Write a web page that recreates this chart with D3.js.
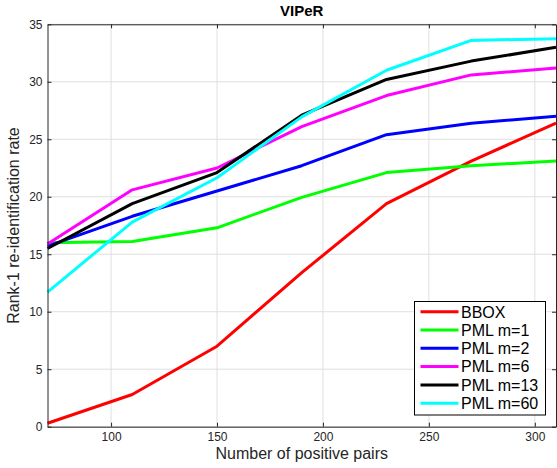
<!DOCTYPE html>
<html><head><meta charset="utf-8">
<script src="https://cdn.jsdelivr.net/npm/d3@7"></script>
<style>body{margin:0;background:#fff}svg{display:block;font-family:"Liberation Sans",Arial,sans-serif}</style>
</head><body><svg id="c" width="557" height="468"></svg>
<script>
const pairs = [70, 110, 150, 190, 230, 270, 310];
const seriesNames = ["BBOX", "PML m=1", "PML m=2", "PML m=6", "PML m=13", "PML m=60"];
const seriesColors = ["#ff0000", "#00ff00", "#0000ff", "#ff00ff", "#000000", "#00ffff"];
const bbox  = [0.3, 2.8, 7.0, 13.4, 19.4, 23.1, 26.4];
const pml1  = [16.0, 16.1, 17.3, 19.95, 22.1, 22.7, 23.1];
const pml2  = [15.7, 18.3, 20.5, 22.7, 25.4, 26.4, 27.0];
const pml6  = [15.9, 20.6, 22.5, 26.1, 28.8, 30.6, 31.2];
const pml13 = [15.5, 19.4, 22.1, 27.1, 30.2, 31.8, 33.0];
const pml60 = [11.7, 17.8, 21.65, 26.95, 31.0, 33.6, 33.75];
const xTicks = [100, 150, 200, 250, 300];
const yTicks = [0, 5, 10, 15, 20, 25, 30, 35];
const allSeries = [bbox, pml1, pml2, pml6, pml13, pml60];

const svg = d3.select("#c");
const L = 47.5, R = 556, T = 24.3, B = 426.7;
const x = d3.scaleLinear().domain([70, 310]).range([L, R]);
const y = d3.scaleLinear().domain([0, 35]).range([B, T]);
const axisCol = "#262626";

// grid
const g = svg.append("g");
g.selectAll("line.gx").data(xTicks).join("line")
  .attr("x1", d => x(d)).attr("x2", d => x(d)).attr("y1", T).attr("y2", B)
  .attr("stroke", "#dfdfdf").attr("stroke-width", 1);
g.selectAll("line.gy").data(yTicks).join("line")
  .attr("y1", d => y(d)).attr("y2", d => y(d)).attr("x1", L).attr("x2", R)
  .attr("stroke", "#dfdfdf").attr("stroke-width", 1);

// lines
const line = d3.line().x((d, i) => x(pairs[i])).y(d => y(d));
svg.append("g").selectAll("path").data(allSeries).join("path")
  .attr("d", d => line(d)).attr("fill", "none")
  .attr("stroke", (d, i) => seriesColors[i]).attr("stroke-width", 3)
  .attr("stroke-linejoin", "round");

// axes
const fmt = d3.format("d");
const axB = svg.append("g").attr("transform", `translate(0,${B})`)
  .call(d3.axisBottom(x).tickValues(xTicks).tickFormat(fmt).tickSizeInner(-4).tickSizeOuter(0).tickPadding(6));
const axT = svg.append("g").attr("transform", `translate(0,${T})`)
  .call(d3.axisTop(x).tickValues(xTicks).tickFormat("").tickSizeInner(-4).tickSizeOuter(0));
const axL = svg.append("g").attr("transform", `translate(${L},0)`)
  .call(d3.axisLeft(y).tickValues(yTicks).tickFormat(fmt).tickSizeInner(-4).tickSizeOuter(0).tickPadding(5));
const axR = svg.append("g").attr("transform", `translate(${R},0)`)
  .call(d3.axisRight(y).tickValues(yTicks).tickFormat("").tickSizeInner(-4).tickSizeOuter(0));
[axB, axT, axL, axR].forEach(a => {
  a.selectAll("path.domain").attr("stroke", axisCol).attr("stroke-width", 1);
  a.selectAll(".tick line").attr("stroke", axisCol);
  a.selectAll("text").attr("fill", axisCol).style("font-size", "12px").style("font-family", '"Liberation Sans",Arial,sans-serif');
});

// title & labels
svg.append("text").attr("x", (L + R) / 2).attr("y", 16).attr("text-anchor", "middle")
  .style("font-weight", "bold").style("font-size", "15px").attr("fill", "#000").text("VIPeR");
svg.append("text").attr("x", (L + R) / 2).attr("y", 459).attr("text-anchor", "middle")
  .style("font-size", "16px").attr("fill", axisCol).text("Number of positive pairs");
svg.append("text").attr("transform", `translate(18.5,${(T + B) / 2}) rotate(-90)`).attr("text-anchor", "middle")
  .style("font-size", "16px").attr("fill", axisCol).text("Rank-1 re-identification rate");

// legend
const lg = svg.append("g");
lg.append("rect").attr("x", 414.5).attr("y", 301.5).attr("width", 131).attr("height", 113.5)
  .attr("fill", "#fff").attr("stroke", "#000").attr("stroke-width", 1);
const rows = lg.selectAll("g.row").data(seriesNames).join("g")
  .attr("transform", (d, i) => `translate(0,${311.7 + i * 18.3})`);
rows.append("line").attr("x1", 420.5).attr("x2", 458.5).attr("y1", 0).attr("y2", 0)
  .attr("stroke", (d, i) => seriesColors[i]).attr("stroke-width", 3);
rows.append("text").attr("x", 461).attr("y", 5.8).style("font-size", "16px").attr("fill", "#000").text(d => d);
</script></body></html>
